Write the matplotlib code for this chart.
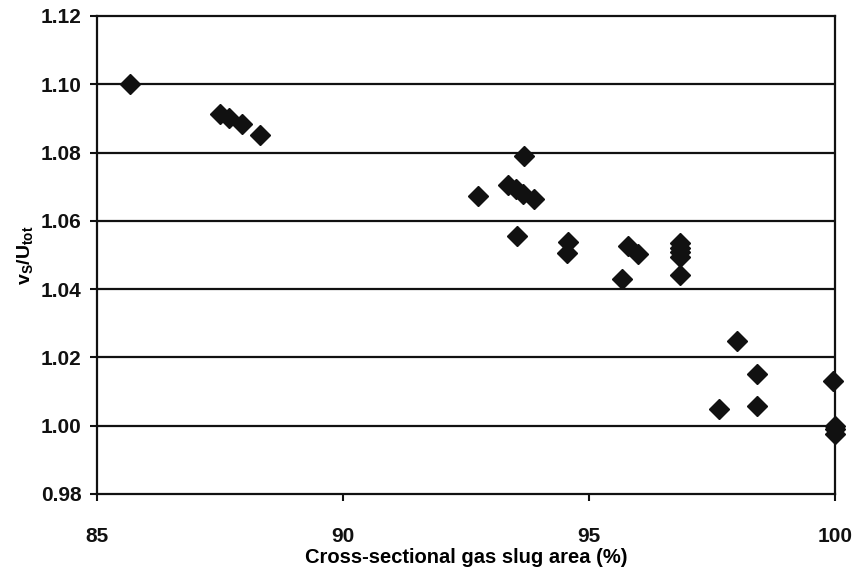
import matplotlib
matplotlib.use("Agg")
import matplotlib.pyplot as plt

# slug area (%) and vs/Utot
area = [85.68, 87.51, 87.69, 87.94, 88.32,
        92.74, 93.36, 93.52, 93.66, 93.89, 93.68, 93.53,
        94.58, 94.55, 95.79, 96.00, 95.68,
        96.84, 96.84, 96.84, 96.84, 96.84,
        98.00, 98.41, 98.41, 97.64, 99.95,
        100.0, 100.0, 100.0]
ratio = [1.100, 1.0914, 1.0901, 1.0885, 1.0851,
         1.0674, 1.0704, 1.0692, 1.0680, 1.0663, 1.0790, 1.0556,
         1.0539, 1.0505, 1.0526, 1.0503, 1.0430,
         1.0536, 1.0519, 1.0508, 1.0495, 1.0441,
         1.0249, 1.0151, 1.0059, 1.0049, 1.0130,
         1.0000, 0.9989, 0.9977]

xticks = [85, 90, 95, 100]
yticks = [0.98, 1.00, 1.02, 1.04, 1.06, 1.08, 1.10, 1.12]

plt.rcParams['font.family'] = ['Liberation Sans', 'DejaVu Sans']
plt.rcParams['font.weight'] = 'bold'
plt.rcParams['mathtext.default'] = 'regular'

fig = plt.figure(figsize=(8.59, 5.73), dpi=100)
ax = fig.add_axes([0.1129, 0.1379, 0.8592, 0.8342])

for yv in yticks[1:-1]:
    ax.axhline(yv, color='#111111', lw=1.6, zorder=1)

ax.plot(area, ratio, linestyle='none', marker='D', ms=10.5,
        color='#111111', clip_on=False, zorder=3)

ax.set_xlim(85, 100)
ax.set_ylim(0.98, 1.12)
ax.set_xticks(xticks)
ax.set_yticks(yticks)
ax.set_xticklabels([str(v) for v in xticks])
ax.set_yticklabels([f'{v:.2f}' for v in yticks])
ax.tick_params(direction='out', length=5, width=1.5, labelsize=15, pad=6,
               colors='#111111')
ax.tick_params(axis='x', pad=19)
for s in ax.spines.values():
    s.set_linewidth(1.6)
    s.set_color('#111111')

ax.set_xlabel('Cross-sectional gas slug area (%)', fontsize=14.5, fontweight='bold',
              labelpad=1)
ax.set_ylabel(r'v$_{S}$/U$_{tot}$', fontsize=14, fontweight='bold', labelpad=4)

fig.savefig('out.png', dpi=100)
